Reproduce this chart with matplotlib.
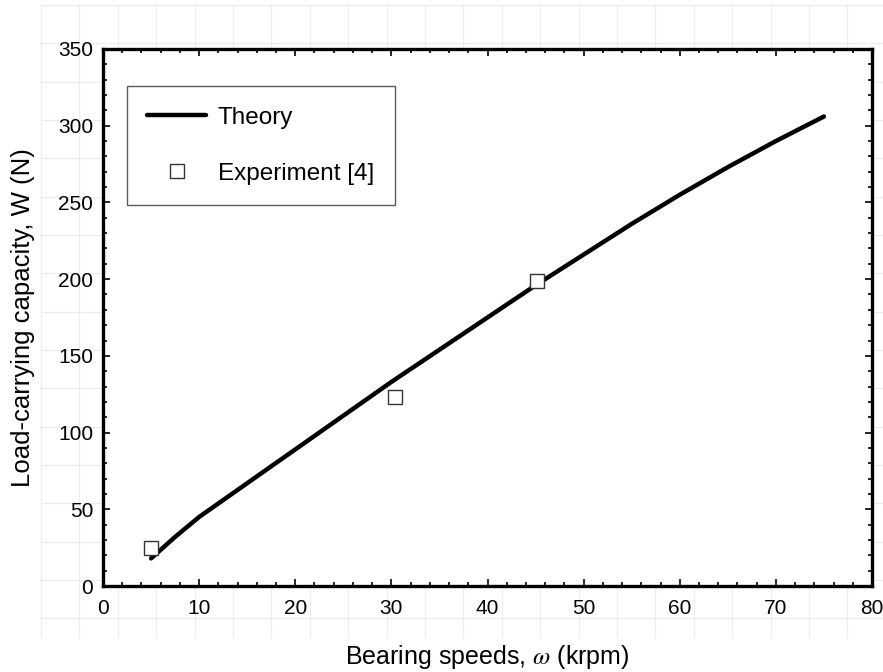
import numpy as np
import matplotlib
matplotlib.use("Agg")
import matplotlib.pyplot as plt

plt.rcParams['font.family'] = ['Liberation Sans', 'DejaVu Sans']
plt.rcParams['mathtext.fontset'] = 'stix'

# theory curve
speed_theory = [5, 7.5, 10, 15, 20, 25, 30, 35, 40, 45, 50, 55, 60, 65, 70, 75]
load_theory = [18, 32, 45, 67, 89, 111, 133, 154, 175, 196, 216, 236, 255, 273, 290, 306]

# experiment [4]
speed_exp = [5.0, 30.4, 45.2]
load_exp = [24.5, 123, 199]

W, H = 883, 672
fig = plt.figure(figsize=(W / 100, H / 100), dpi=100)

# faint background grid of the page
bg = fig.add_axes([0, 0, 1, 1], zorder=-5)
bg.set_xlim(0, W)
bg.set_ylim(H, 0)
bg.axis('off')
for k in range(22):
    xg = 41 + 38.4 * k
    bg.plot([xg, xg], [5, 637], color='#ececec', lw=0.8)
for k in range(17):
    yg = 5 + 38.33 * k
    bg.plot([41, W], [yg, yg], color='#ececec', lw=0.8)

ax = fig.add_axes([103 / W, 1 - 586 / H, (872 - 103) / W, (586 - 49) / H])
ax.plot(speed_theory, load_theory, color='black', lw=3.2, label='Theory',
        solid_capstyle='round')
ax.plot(speed_exp, load_exp, ls='none', marker='s', ms=9.5, mfc='white',
        mec='#333333', mew=1.0, label='Experiment [4]')

ax.set_xlim(0, 80)
ax.set_ylim(0, 350)
ax.set_xticks(np.arange(0, 81, 10))
ax.set_xticks(np.arange(0, 81, 2), minor=True)
ax.set_yticks(np.arange(0, 351, 50))
ax.set_yticks(np.arange(0, 351, 10), minor=True)
ax.tick_params(which='both', direction='in', top=True, right=True,
               labelsize=15, width=1.2)
ax.tick_params(axis='x', pad=9)
ax.tick_params(axis='y', pad=7)
ax.tick_params(which='major', length=5)
ax.tick_params(which='minor', length=3)
for s in ax.spines.values():
    s.set_linewidth(2.4)

ax.set_xlabel('Bearing speeds, $\\omega$ (krpm)', fontsize=18, labelpad=18.5)
ax.set_ylabel('Load-carrying capacity, W (N)', fontsize=18.5, labelpad=17)

leg = ax.legend(loc='upper left', bbox_to_anchor=(0.031, 0.931), fontsize=17.5,
                frameon=True, fancybox=False, handlelength=2.4,
                handletextpad=0.5, labelspacing=1.4, borderpad=0.85,
                borderaxespad=0)
leg.get_frame().set_edgecolor('#333333')
leg.get_frame().set_linewidth(1.0)

fig.savefig('out.png', dpi=100)
